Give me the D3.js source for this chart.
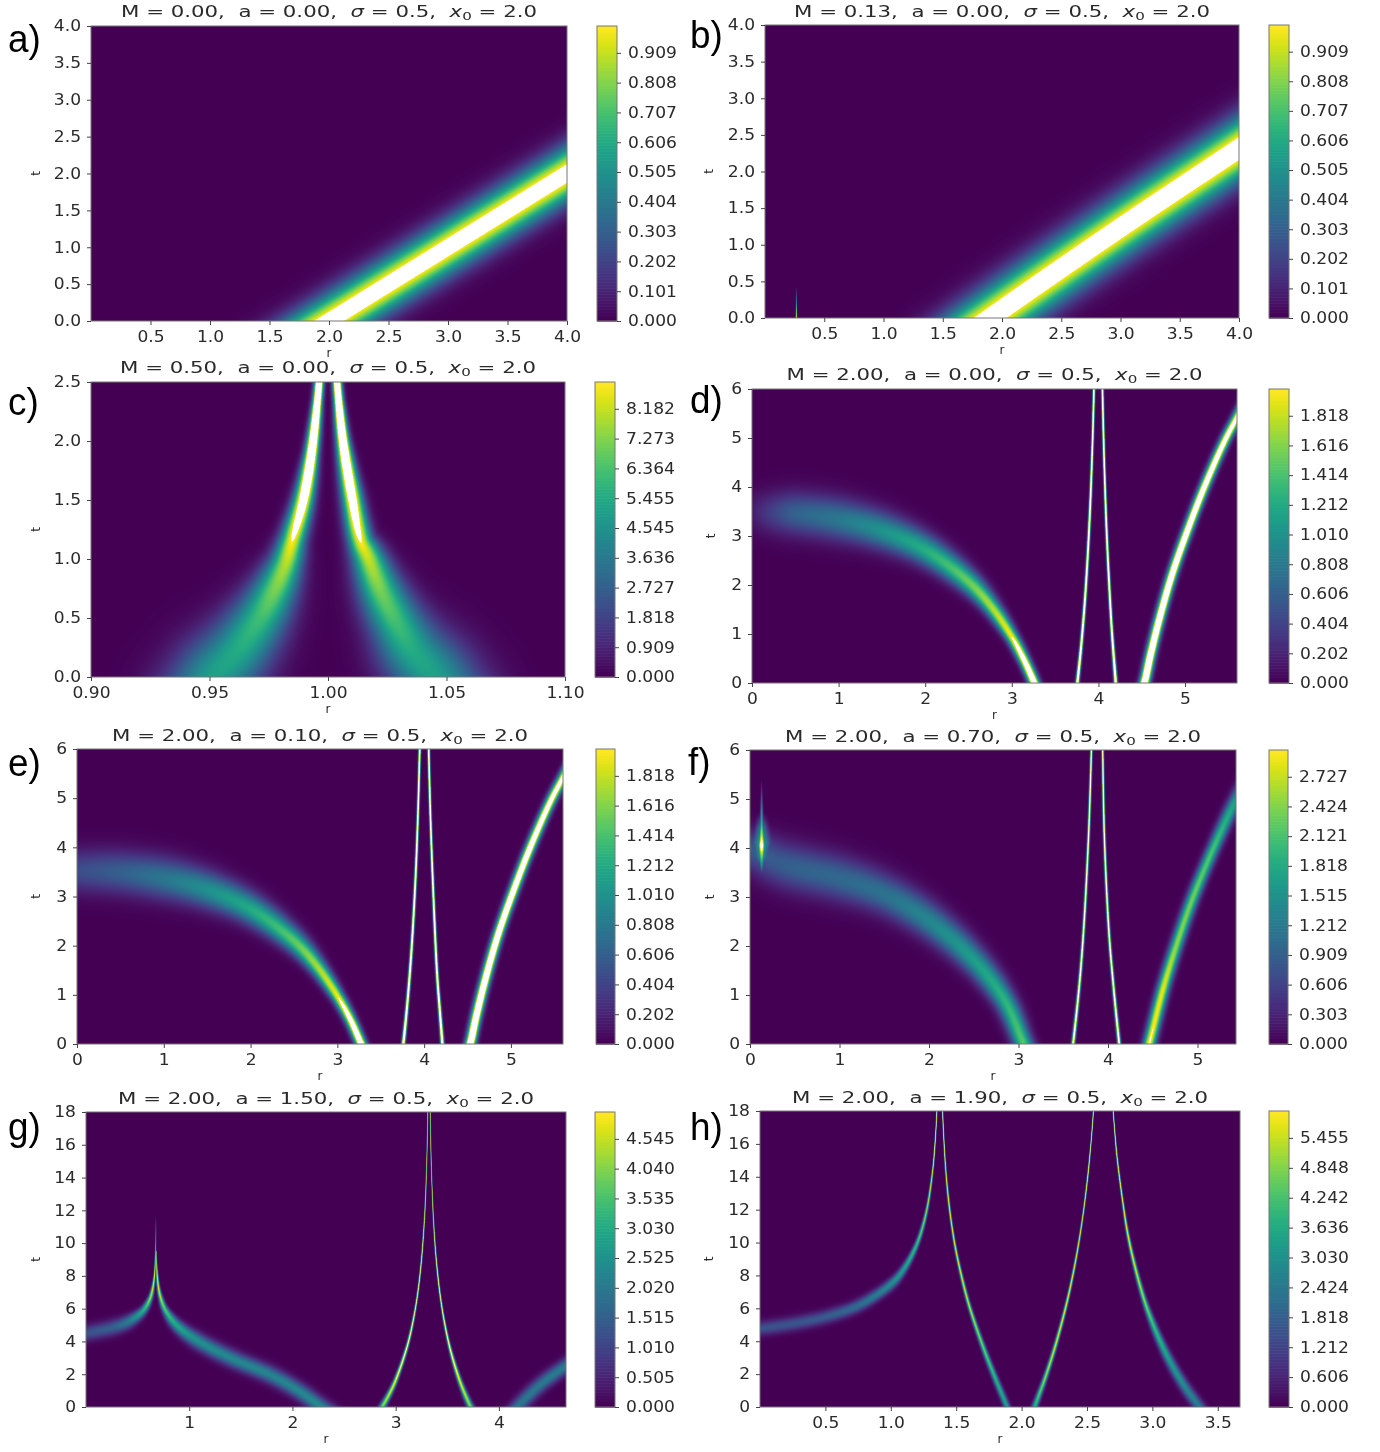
<!DOCTYPE html>
<html>
<head>
<meta charset="utf-8">
<script src="https://cdn.jsdelivr.net/npm/d3@7"></script>
<style>
  html, body { margin: 0; padding: 0; background: #fff; }
  #wrap { position: relative; width: 1380px; height: 1452px; overflow: hidden; filter: blur(0.4px); }
  canvas { position: absolute; }
  svg { position: absolute; left: 0; top: 0; }
  text { font-family: "DejaVu Sans", sans-serif; fill: #2a2a2a; white-space: pre; }
</style>
</head>
<body>
<div id="wrap"></div>
<script>
// panel values
const letters = ['a)', 'b)', 'c)', 'd)', 'e)', 'f)', 'g)', 'h)']
const massLabels = ['0.00', '0.13', '0.50', '2.00', '2.00', '2.00', '2.00', '2.00']
const spinLabels = ['0.00', '0.00', '0.00', '0.00', '0.10', '0.70', '1.50', '1.90']
const rDomains = [[0, 4], [0, 4], [0.9, 1.1], [0, 5.6], [0, 5.6], [0, 5.43], [0, 4.65], [0, 3.67]]
const tDomains = [[0, 4], [0, 4], [0, 2.5], [0, 6], [0, 6], [0, 6], [0, 18], [0, 18]]
const colorMax = [1, 1, 9, 2, 2, 3, 5, 6]

const rTicks = [
	['0.5', '1.0', '1.5', '2.0', '2.5', '3.0', '3.5', '4.0'],
	['0.5', '1.0', '1.5', '2.0', '2.5', '3.0', '3.5', '4.0'],
	['0.90', '0.95', '1.00', '1.05', '1.10'],
	['0', '1', '2', '3', '4', '5'],
	['0', '1', '2', '3', '4', '5'],
	['0', '1', '2', '3', '4', '5'],
	['1', '2', '3', '4'],
	['0.5', '1.0', '1.5', '2.0', '2.5', '3.0', '3.5']
]
const tTicksHalf = ['0.0', '0.5', '1.0', '1.5', '2.0', '2.5', '3.0', '3.5', '4.0']
const tTicksShort = ['0.0', '0.5', '1.0', '1.5', '2.0', '2.5']
const tTicksSix = ['0', '1', '2', '3', '4', '5', '6']
const tTicksLong = ['0', '2', '4', '6', '8', '10', '12', '14', '16', '18']
const tTicks = [tTicksHalf, tTicksHalf, tTicksShort, tTicksSix, tTicksSix, tTicksSix, tTicksLong, tTicksLong]

const barTicks = [
	['0.000', '0.101', '0.202', '0.303', '0.404', '0.505', '0.606', '0.707', '0.808', '0.909'],
	['0.000', '0.101', '0.202', '0.303', '0.404', '0.505', '0.606', '0.707', '0.808', '0.909'],
	['0.000', '0.909', '1.818', '2.727', '3.636', '4.545', '5.455', '6.364', '7.273', '8.182'],
	['0.000', '0.202', '0.404', '0.606', '0.808', '1.010', '1.212', '1.414', '1.616', '1.818'],
	['0.000', '0.202', '0.404', '0.606', '0.808', '1.010', '1.212', '1.414', '1.616', '1.818'],
	['0.000', '0.303', '0.606', '0.909', '1.212', '1.515', '1.818', '2.121', '2.424', '2.727'],
	['0.000', '0.505', '1.010', '1.515', '2.020', '2.525', '3.030', '3.535', '4.040', '4.545'],
	['0.000', '0.606', '1.212', '1.818', '2.424', '3.030', '3.636', '4.242', '4.848', '5.455']
]

// ridge: [r, t, spread (in r), peak value]
const ridgesA = [
	[[1.5, -0.5, 0.131, 1.133], [4.5, 2.5, 0.131, 1.133]]
]
const ridgesB = [
	[[1.5, -0.47, 0.148, 1.154], [1.9, 0, 0.148, 1.154], [3, 1.233, 0.148, 1.154], [4, 2.314, 0.148, 1.154], [4.4, 2.75, 0.148, 1.154]],
	[[0.265, -0.05, 0.004, 1.1], [0.265, 0.1, 0.003, 0.9], [0.265, 0.42, 0.002, 0]]
]
const ridgesC = [
	[[0.946, -0.2, 0.0118, 4.9], [0.952, 0, 0.0112, 5.1], [0.962, 0.23, 0.0098, 5.5], [0.971, 0.49, 0.008, 6.2], [0.977, 0.715, 0.0064, 7.1], [0.982, 0.95, 0.0047, 8], [0.985, 1.16, 0.0036, 9.05], [0.9896, 1.5, 0.0028, 11], [0.993, 1.89, 0.0019, 13.5], [0.9955, 2.33, 0.0013, 15], [0.9965, 2.58, 0.0012, 15], [0.997, 2.8, 0.0012, 15]],
	[[1.051, -0.2, 0.0118, 4.9], [1.045, 0, 0.0112, 5.1], [1.036, 0.22, 0.0098, 5.5], [1.0295, 0.44, 0.008, 6.2], [1.0225, 0.72, 0.0064, 7.1], [1.0165, 1.03, 0.0044, 8.4], [1.0138, 1.15, 0.0035, 9.05], [1.01, 1.54, 0.0028, 11], [1.0063, 2, 0.0018, 13.5], [1.0045, 2.34, 0.0013, 15], [1.0035, 2.6, 0.0012, 15], [1.003, 2.8, 0.0012, 15]]
]
const ridgesD = [
	[[0.05, 3.49, 0.16, 0], [0.2, 3.48, 0.16, 0.3], [0.5, 3.46, 0.165, 0.62], [1, 3.34, 0.16, 0.8], [1.5, 3.11, 0.14, 1.02], [2, 2.72, 0.115, 1.25], [2.5, 2.07, 0.085, 1.55], [2.75, 1.59, 0.065, 1.75], [3, 0.945, 0.048, 2], [3.15, 0.44, 0.042, 2.4], [3.26, 0, 0.04, 2.7], [3.3, -0.18, 0.04, 2.8]],
	[[3.74, -0.3, 0.014, 2.8], [3.757, 0, 0.014, 2.8], [3.8, 0.74, 0.012, 2.8], [3.85, 1.84, 0.011, 2.8], [3.9, 3.42, 0.01, 2.8], [3.93, 4.81, 0.009, 2.8], [3.945, 5.76, 0.009, 2.8], [3.95, 6.14, 0.009, 2.8]],
	[[4.21, -0.3, 0.014, 2.8], [4.2, 0, 0.014, 2.8], [4.17, 0.69, 0.012, 2.8], [4.15, 1.2, 0.011, 2.8], [4.1, 2.88, 0.01, 2.8], [4.07, 4.33, 0.009, 2.8], [4.05, 5.7, 0.009, 2.8], [4.044, 6.2, 0.009, 2.8]],
	[[4.47, -0.3, 0.038, 3.1], [4.53, 0, 0.038, 3.1], [4.6, 0.56, 0.038, 3], [4.7, 1.28, 0.038, 2.9], [4.85, 2.21, 0.038, 2.8], [5.03, 3.12, 0.038, 2.7], [5.23, 4.03, 0.038, 2.6], [5.46, 4.95, 0.038, 2.4], [5.6, 5.42, 0.038, 2.3], [5.8, 6.1, 0.038, 2.2]]
]
const ridgesE = [
	[[-0.2, 3.52, 0.165, 0.42], [0, 3.52, 0.165, 0.45], [0.5, 3.49, 0.165, 0.6], [1, 3.37, 0.16, 0.78], [1.5, 3.14, 0.14, 1], [2, 2.75, 0.115, 1.22], [2.5, 2.1, 0.085, 1.5], [2.75, 1.62, 0.065, 1.72], [3, 0.98, 0.048, 1.97], [3.15, 0.5, 0.042, 2.35], [3.27, 0.02, 0.04, 2.65], [3.32, -0.18, 0.04, 2.75]],
	[[3.74, -0.3, 0.014, 2.8], [3.76, 0, 0.014, 2.8], [3.8, 0.7, 0.012, 2.8], [3.85, 1.8, 0.011, 2.8], [3.9, 3.35, 0.01, 2.8], [3.93, 4.75, 0.009, 2.8], [3.95, 6.05, 0.009, 2.8], [3.955, 6.3, 0.009, 2.8]],
	[[4.22, -0.3, 0.014, 2.8], [4.21, 0, 0.014, 2.8], [4.18, 0.69, 0.012, 2.8], [4.15, 1.4, 0.011, 2.8], [4.11, 2.88, 0.01, 2.8], [4.075, 4.5, 0.009, 2.8], [4.055, 5.8, 0.009, 2.8], [4.05, 6.3, 0.009, 2.8]],
	[[4.47, -0.3, 0.038, 3.1], [4.53, 0, 0.038, 3.1], [4.6, 0.56, 0.038, 3], [4.7, 1.28, 0.038, 2.9], [4.85, 2.21, 0.038, 2.8], [5.03, 3.12, 0.038, 2.7], [5.23, 4.03, 0.038, 2.6], [5.46, 4.95, 0.038, 2.4], [5.6, 5.42, 0.038, 2.3], [5.8, 6.1, 0.038, 2.2]]
]
const ridgesF = [
	[[-0.2, 4.1, 0.14, 0.85], [0.1, 3.9, 0.15, 0.85], [0.3, 3.72, 0.165, 0.85], [0.5, 3.6, 0.17, 0.92], [1, 3.38, 0.165, 1], [1.5, 3.06, 0.145, 1.12], [2, 2.52, 0.125, 1.38], [2.5, 1.72, 0.1, 1.68], [2.85, 0.88, 0.08, 1.95], [3.04, 0.08, 0.07, 2.2], [3.1, -0.2, 0.07, 2.25]],
	[[0.13, 3.6, 0.05, 0], [0.13, 3.85, 0.065, 1.4], [0.13, 4.1, 0.07, 1.7], [0.13, 4.4, 0.045, 1.2], [0.13, 4.7, 0.025, 0]],
	[[0.13, 3.4, 0.008, 0], [0.13, 3.75, 0.02, 2], [0.13, 4.05, 0.026, 3.6], [0.13, 4.5, 0.012, 2], [0.13, 5.4, 0.003, 0]],
	[[3.59, -0.3, 0.013, 3.6], [3.61, 0, 0.013, 3.6], [3.68, 1.21, 0.011, 3.6], [3.73, 2.4, 0.01, 3.6], [3.785, 4.35, 0.009, 3.6], [3.815, 6.04, 0.008, 3.6], [3.82, 6.4, 0.008, 3.6]],
	[[4.14, -0.3, 0.013, 3.6], [4.125, 0, 0.013, 3.6], [4.065, 1.1, 0.011, 3.6], [4.01, 2.3, 0.01, 3.6], [3.96, 4.2, 0.009, 3.6], [3.94, 6, 0.008, 3.6], [3.935, 6.4, 0.008, 3.6]],
	[[4.4, -0.4, 0.045, 3.05], [4.46, 0, 0.045, 3.05], [4.615, 1.12, 0.045, 2.9], [4.76, 1.99, 0.045, 2.5], [4.935, 2.92, 0.045, 2.35], [5.16, 3.92, 0.045, 2.15], [5.4, 4.87, 0.05, 1.75], [5.7, 5.9, 0.05, 0.9]]
]
const ridgesG = [
	[[-0.3, 4.15, 0.05, 1.2], [0, 4.5, 0.05, 1.25], [0.25, 4.83, 0.048, 1.5], [0.4, 5.17, 0.042, 2], [0.55, 5.85, 0.025, 3.1], [0.62, 6.6, 0.015, 4.2], [0.65, 7.35, 0.009, 4.8], [0.665, 8.16, 0.005, 5], [0.672, 9.05, 0.004, 4.8], [0.675, 9.96, 0.003, 3.5], [0.677, 11.6, 0.003, 0]],
	[[0.68, 9.5, 0.003, 4], [0.683, 8.8, 0.004, 4.6], [0.69, 7.99, 0.007, 4.9], [0.7, 7.39, 0.009, 4.8], [0.72, 6.74, 0.013, 4.5], [0.765, 5.96, 0.02, 3.7], [0.87, 5.05, 0.035, 3], [1.06, 4.13, 0.048, 2.5], [1.4, 3, 0.052, 2.3], [1.79, 1.95, 0.052, 2.25], [2.07, 0.95, 0.05, 2.3], [2.28, 0, 0.05, 2.4], [2.42, -0.6, 0.05, 2.4]],
	[[2.84, -0.4, 0.02, 3.8], [2.87, 0, 0.02, 4], [2.94, 0.81, 0.016, 4.6], [3, 1.63, 0.013, 5], [3.115, 3.78, 0.009, 5.2], [3.19, 5.98, 0.006, 5.2], [3.24, 8.33, 0.005, 5.2], [3.28, 11.6, 0.004, 5], [3.3, 14.76, 0.003, 5], [3.31, 17.66, 0.003, 5], [3.312, 19, 0.003, 5]],
	[[3.76, -0.4, 0.02, 3.8], [3.727, 0, 0.02, 4], [3.66, 0.95, 0.016, 4.6], [3.6, 1.98, 0.013, 5], [3.52, 3.74, 0.009, 5.2], [3.45, 5.99, 0.006, 5.2], [3.4, 8.53, 0.005, 5.2], [3.37, 11, 0.004, 5], [3.35, 13.8, 0.003, 5], [3.34, 16.1, 0.003, 5], [3.333, 18.9, 0.003, 5]],
	[[4.1, -0.6, 0.045, 1.9], [4.18, 0, 0.045, 1.95], [4.4, 1.35, 0.045, 2], [4.65, 2.5, 0.045, 2.1], [4.85, 3.25, 0.045, 2.1]]
]
const ridgesH = [
	[[-0.3, 4.45, 0.035, 1.5], [0, 4.77, 0.035, 1.5], [0.25, 5.06, 0.035, 1.55], [0.5, 5.48, 0.033, 1.7], [0.75, 6.16, 0.03, 2.1], [1, 7.46, 0.024, 2.9], [1.1, 8.39, 0.017, 3.4], [1.2, 9.91, 0.011, 4.1], [1.27, 11.79, 0.007, 5], [1.32, 14.36, 0.004, 6], [1.345, 16.85, 0.003, 6.4], [1.355, 18.55, 0.003, 6.4]],
	[[1.393, 18.7, 0.003, 6.4], [1.398, 17.6, 0.003, 6.4], [1.405, 16.4, 0.003, 6.4], [1.42, 14.45, 0.004, 6], [1.44, 12.7, 0.005, 6], [1.466, 11.06, 0.005, 6], [1.5, 9.44, 0.006, 5.9], [1.567, 7.1, 0.008, 5.6], [1.617, 5.71, 0.009, 5.3], [1.72, 3.35, 0.012, 4.5], [1.8, 1.73, 0.014, 3.9], [1.89, 0, 0.016, 3.3], [1.92, -0.6, 0.016, 3.2]],
	[[2.08, -0.5, 0.016, 3.6], [2.1, 0, 0.015, 3.8], [2.18, 1.76, 0.011, 5], [2.255, 3.63, 0.009, 5.6], [2.34, 6.15, 0.007, 5.9], [2.39, 7.95, 0.006, 5.9], [2.43, 9.65, 0.005, 6], [2.47, 11.7, 0.004, 6], [2.507, 14.1, 0.004, 6.1], [2.53, 16, 0.003, 6.4], [2.545, 17.5, 0.003, 6.4], [2.555, 18.7, 0.003, 6.4]],
	[[2.692, 18.9, 0.003, 6.4], [2.71, 17, 0.003, 6.4], [2.73, 15.2, 0.004, 6.1], [2.775, 12.4, 0.005, 6], [2.81, 10.6, 0.007, 5.9], [2.865, 8.6, 0.009, 5.6], [2.94, 6.45, 0.012, 4.9], [3, 5.13, 0.016, 4.2], [3.06, 3.99, 0.019, 3.8], [3.13, 2.84, 0.022, 3.3], [3.2, 1.85, 0.024, 3], [3.27, 0.98, 0.026, 2.7], [3.36, 0, 0.027, 2.5], [3.41, -0.6, 0.027, 2.4]]
]
const ridges = [ridgesA, ridgesB, ridgesC, ridgesD, ridgesE, ridgesF, ridgesG, ridgesH]

// page layout: [plot left, plot right, plot top, plot bottom, bar left, bar right]
const boxes = [
	[91, 567, 26, 321, 597, 617],
	[765, 1239, 25, 318, 1269, 1289],
	[91, 565, 382, 677, 595, 615],
	[752, 1237, 389, 683, 1269, 1289],
	[77, 563, 749, 1044, 596, 615],
	[750, 1236, 750, 1044, 1269, 1288],
	[86, 566, 1112, 1407, 595, 615],
	[760, 1240, 1111, 1407, 1269, 1289]
]
const titleBase = [17, 17, 373, 380, 741, 742, 1104, 1103]
const letterPos = [[8, 52], [690, 48], [8, 415], [690, 413], [8, 776], [688, 775], [8, 1140], [690, 1140]]
const tLabelGap = [55, 56, 55, 41, 41, 40, 50, 51]

const wrap = d3.select('#wrap')
const svg = wrap.append('svg').attr('width', 1380).attr('height', 1452)

const stretch = (sel, k) => sel.each(function() {
	const len = this.getComputedTextLength()
	d3.select(this).attr('textLength', len * k).attr('lengthAdjust', 'spacingAndGlyphs')
})

const palette = d3.range(256).map(i => d3.rgb(d3.interpolateViridis(i / 255)))

// centripetal spline through the read points so the cusps do not overshoot
const densify = pts => {
	const n = pts.length - 1
	const gap = i => Math.sqrt(Math.hypot(pts[i + 1][0] - pts[i][0], pts[i + 1][1] - pts[i][1])) + 1e-6
	const tan = pts.map((p, i) => {
		if (i === 0) return [(pts[1][0] - p[0]) / gap(0), (pts[1][1] - p[1]) / gap(0)]
		if (i === n) return [(p[0] - pts[n - 1][0]) / gap(n - 1), (p[1] - pts[n - 1][1]) / gap(n - 1)]
		const d0 = gap(i - 1)
		const d1 = gap(i)
		return [0, 1].map(k =>
			(p[k] - pts[i - 1][k]) / d0 - (pts[i + 1][k] - pts[i - 1][k]) / (d0 + d1) + (pts[i + 1][k] - p[k]) / d1)
	})
	const out = []
	for (let i = 0; i < n; i++) {
		const h = gap(i)
		for (let j = 0; j < 24; j++) {
			const s = j / 24
			const s2 = s * s
			const s3 = s2 * s
			const h00 = 2 * s3 - 3 * s2 + 1
			const h10 = s3 - 2 * s2 + s
			const h01 = -2 * s3 + 3 * s2
			const h11 = s3 - s2
			out.push([
				h00 * pts[i][0] + h10 * h * tan[i][0] + h01 * pts[i + 1][0] + h11 * h * tan[i + 1][0],
				h00 * pts[i][1] + h10 * h * tan[i][1] + h01 * pts[i + 1][1] + h11 * h * tan[i + 1][1],
				pts[i][2] + (pts[i + 1][2] - pts[i][2]) * s,
				pts[i][3] + (pts[i + 1][3] - pts[i][3]) * s
			])
		}
	}
	out.push(pts[n])
	return out
}

const paintField = (idx, x, y) => {
	const [left, right, top, bottom] = boxes[idx]
	const ss = 2
	const w = (right - left) * ss
	const h = (bottom - top) * ss
	const canvas = wrap.insert('canvas', 'svg')
		.attr('width', w).attr('height', h)
		.style('left', left + 'px').style('top', top + 'px')
		.style('width', (right - left) + 'px').style('height', (bottom - top) + 'px')
	const ctx = canvas.node().getContext('2d')
	const field = new Float32Array(w * h)
	const rUnit = Math.abs(x(1) - x(0)) * ss

	ridges[idx].forEach(ridge => {
		const pts = densify(ridge.map(d => [(x(d[0]) - left) * ss, (y(d[1]) - top) * ss, d[2] * rUnit, d[3]]))
		for (let i = 0; i < pts.length - 1; i++) {
			const [ax, ay, as, aa] = pts[i]
			const [bx, by, bs, ba] = pts[i + 1]
			const reach = Math.max(as, bs) * 4
			const x0 = Math.max(0, Math.floor(Math.min(ax, bx) - reach))
			const x1 = Math.min(w - 1, Math.ceil(Math.max(ax, bx) + reach))
			const y0 = Math.max(0, Math.floor(Math.min(ay, by) - reach))
			const y1 = Math.min(h - 1, Math.ceil(Math.max(ay, by) + reach))
			const dx = bx - ax
			const dy = by - ay
			const len2 = dx * dx + dy * dy || 1
			for (let py = y0; py <= y1; py++) {
				for (let px = x0; px <= x1; px++) {
					const q = Math.max(0, Math.min(1, ((px + 0.5 - ax) * dx + (py + 0.5 - ay) * dy) / len2))
					const ex = px + 0.5 - ax - q * dx
					const ey = py + 0.5 - ay - q * dy
					const sg = as + (bs - as) * q
					const v = (aa + (ba - aa) * q) * Math.exp(-(ex * ex + ey * ey) / (2 * sg * sg))
					if (v > field[py * w + px]) field[py * w + px] = v
				}
			}
		}
	})

	const img = ctx.createImageData(w, h)
	const vmax = colorMax[idx]
	for (let i = 0; i < field.length; i++) {
		const f = field[i] / vmax
		const c = f >= 1 ? null : palette[Math.round(f * 255)]
		img.data[i * 4] = c ? c.r : 255
		img.data[i * 4 + 1] = c ? c.g : 255
		img.data[i * 4 + 2] = c ? c.b : 255
		img.data[i * 4 + 3] = 255
	}
	ctx.putImageData(img, 0, 0)
}

const styleAxis = (g, k) => {
	g.selectAll('.domain').remove()
	g.selectAll('line').attr('stroke', '#444').attr('stroke-width', 1)
	g.selectAll('text').attr('font-size', 15).attr('fill', '#2a2a2a').call(stretch, k)
}

letters.forEach((letter, idx) => {
	const [left, right, top, bottom, barLeft, barRight] = boxes[idx]
	const x = d3.scaleLinear().domain(rDomains[idx]).range([left, right])
	const y = d3.scaleLinear().domain(tDomains[idx]).range([bottom, top])

	paintField(idx, x, y)

	svg.append('rect')
		.attr('x', left).attr('y', top)
		.attr('width', right - left).attr('height', bottom - top)
		.attr('fill', 'none').attr('stroke', '#777')

	const xLabels = rTicks[idx]
	svg.append('g')
		.attr('transform', `translate(0,${bottom})`)
		.call(d3.axisBottom(x).tickValues(xLabels.map(Number)).tickFormat((d, i) => xLabels[i]).tickSize(4).tickPadding(6))
		.call(styleAxis, 1.14)

	const yLabels = tTicks[idx]
	svg.append('g')
		.attr('transform', `translate(${left},0)`)
		.call(d3.axisLeft(y).tickValues(yLabels.map(Number)).tickFormat((d, i) => yLabels[i]).tickSize(4).tickPadding(6))
		.call(styleAxis, 1.14)

	svg.append('text')
		.attr('x', (left + right) / 2).attr('y', bottom + 36)
		.attr('text-anchor', 'middle').attr('font-size', 12)
		.text('r')
	svg.append('text')
		.attr('transform', `translate(${left - tLabelGap[idx] + 4},${(top + bottom) / 2}) rotate(-90)`)
		.attr('text-anchor', 'middle').attr('font-size', 12)
		.text('t')

	const title = svg.append('text')
		.attr('x', (left + right) / 2).attr('y', titleBase[idx])
		.attr('text-anchor', 'middle').attr('font-size', 15.5)
	title.append('tspan').text(`M = ${massLabels[idx]},  a = ${spinLabels[idx]},  `)
	title.append('tspan').attr('font-style', 'italic').text('σ')
	title.append('tspan').text(' = 0.5,  ')
	title.append('tspan').attr('font-style', 'italic').text('x')
	title.append('tspan').attr('font-size', 11).attr('dy', 3).text('0')
	title.append('tspan').attr('dy', -3).text(' = 2.0')
	title.attr('textLength', 416).attr('lengthAdjust', 'spacingAndGlyphs')

	svg.append('text')
		.attr('x', letterPos[idx][0]).attr('y', letterPos[idx][1])
		.attr('font-size', 38)
		.style('font-family', '"Liberation Sans", sans-serif')
		.style('fill', '#000')
		.text(letter)
		.call(stretch, 0.97)

	// colorbar, 99 filled levels like the contour plot it belongs to
	const vmax = colorMax[idx]
	const bar = d3.scaleLinear().domain([0, vmax]).range([bottom, top])
	const levels = d3.range(99)
	svg.append('g').selectAll('rect').data(levels).join('rect')
		.attr('x', barLeft)
		.attr('width', barRight - barLeft)
		.attr('y', d => bar((d + 1) * vmax / 99))
		.attr('height', d => bar(d * vmax / 99) - bar((d + 1) * vmax / 99) + 0.6)
		.attr('fill', d => d3.interpolateViridis(d / 98))
	svg.append('rect')
		.attr('x', barLeft).attr('y', top)
		.attr('width', barRight - barLeft).attr('height', bottom - top)
		.attr('fill', 'none').attr('stroke', '#777')

	const barLabels = barTicks[idx]
	svg.append('g')
		.attr('transform', `translate(${barRight},0)`)
		.call(d3.axisRight(bar).tickValues(barLabels.map(Number)).tickFormat((d, i) => barLabels[i]).tickSize(4).tickPadding(7))
		.call(styleAxis, 1.14)
})
</script>
</body>
</html>
